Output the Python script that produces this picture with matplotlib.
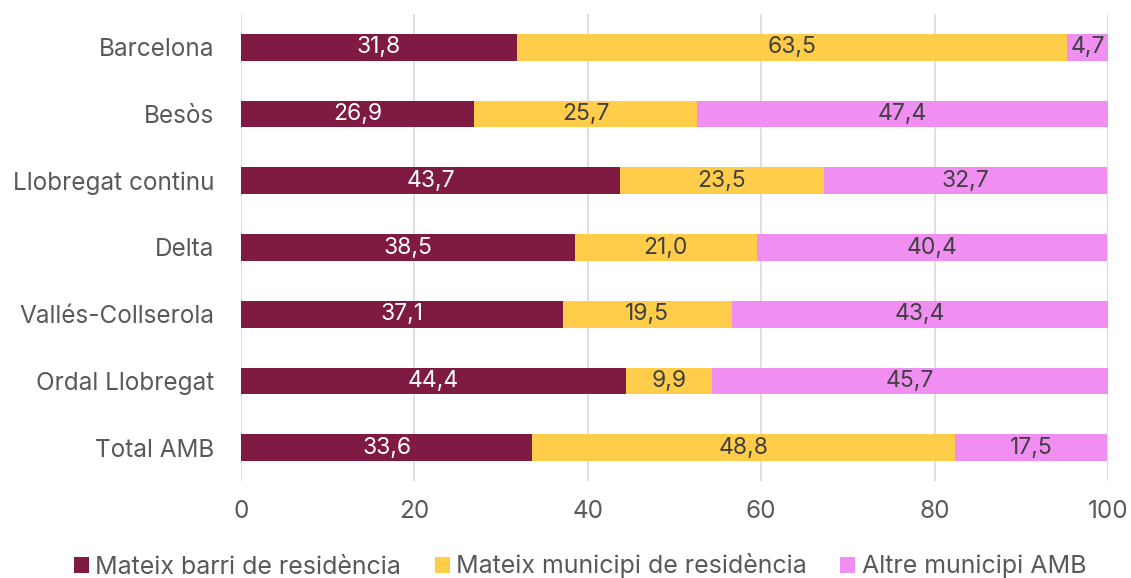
import matplotlib
matplotlib.use("Agg")
import matplotlib.pyplot as plt
from matplotlib.patches import Patch

categories = ["Barcelona", "Besòs", "Llobregat continu", "Delta",
              "Vallés-Collserola", "Ordal Llobregat", "Total AMB"]
series_names = ["Mateix barri de residència", "Mateix municipi de residència",
                "Altre municipi AMB"]
barri = [31.8, 26.9, 43.7, 38.5, 37.1, 44.4, 33.6]
municipi = [63.5, 25.7, 23.5, 21.0, 19.5, 9.9, 48.8]
altre = [4.7, 47.4, 32.7, 40.4, 43.4, 45.7, 17.5]
xticks = [0, 20, 40, 60, 80, 100]

colors = ["#7f1b43", "#ffcd4a", "#f08ef2"]
label_colors = ["white", "#404040", "#404040"]

plt.rcParams["font.family"] = ["Inter", "DejaVu Sans"]

fig = plt.figure(figsize=(11.31, 5.78), dpi=100)
ax = fig.add_axes([241/1131, 97/578, 867/1131, 467/578])

y = list(range(len(categories)))
left = [0]*len(categories)
for vals, col, lc, name in zip([barri, municipi, altre], colors, label_colors, series_names):
    ax.barh(y, vals, left=left, height=0.4, color=col, label=name, zorder=3)
    for yi, l, v in zip(y, left, vals):
        ax.text(l + v/2, yi, f"{v:.1f}".replace(".", ","), ha="center", va="center",
                color=lc, fontsize=16.5, zorder=4)
    left = [a + b for a, b in zip(left, vals)]

ax.set_xlim(0, 100)
ax.set_ylim(len(categories) - 0.5, -0.5)
ax.set_yticks(y)
ax.set_yticklabels(categories, fontsize=17.5, color="#595959")
ax.set_xticks(xticks)
ax.set_xticklabels([str(t) for t in xticks], fontsize=17.5, color="#595959")
ax.tick_params(axis="y", length=0, pad=19)
ax.tick_params(axis="x", length=0, pad=14)
ax.grid(axis="x", color="#d9d9d9", linewidth=1.2, zorder=0)
for s in ax.spines.values():
    s.set_visible(False)

handles = [Patch(facecolor=c, label=n) for c, n in zip(colors, series_names)]
fig.legend(handles=handles, loc="center", bbox_to_anchor=(580/1131, 12/578), ncol=3,
           frameon=False, fontsize=18, labelcolor="#595959", handlelength=0.6,
           handleheight=0.6, handletextpad=0.25, columnspacing=1.35)

fig.savefig("out.png", dpi=100)
